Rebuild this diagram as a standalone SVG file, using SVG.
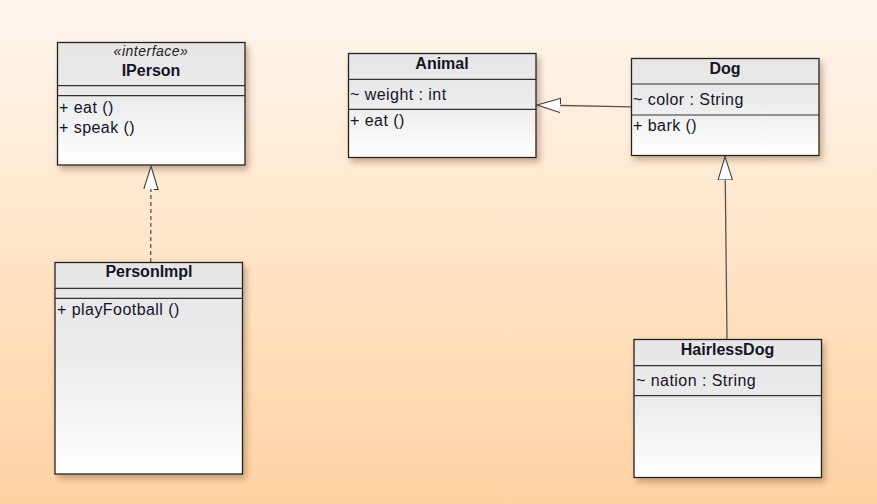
<svg xmlns="http://www.w3.org/2000/svg" width="877" height="504" viewBox="0 0 877 504">
<defs>
<linearGradient id="bg" x1="0" y1="0" x2="0" y2="1">
<stop offset="0" stop-color="#fff6ee"/>
<stop offset="1" stop-color="#ffd2a2"/>
</linearGradient>
<linearGradient id="box" x1="0" y1="0" x2="0" y2="1">
<stop offset="0" stop-color="#e6e6e6"/>
<stop offset="0.45" stop-color="#ebebeb"/>
<stop offset="1" stop-color="#ffffff"/>
</linearGradient>
<filter id="sh" x="-10%" y="-10%" width="130%" height="130%">
<feDropShadow dx="3" dy="4" stdDeviation="3" flood-color="#7a5a3a" flood-opacity="0.45"/>
</filter>
<marker id="tri" viewBox="0 0 24 16" refX="24" refY="8" markerWidth="24" markerHeight="16" markerUnits="userSpaceOnUse" orient="auto">
<path d="M0,0.8 L23.5,8 L0,15.2 Z" fill="#fff" stroke="#333" stroke-width="1"/>
</marker>
</defs>
<style>
.b{fill:url(#box);stroke:#222;stroke-width:1.3;filter:url(#sh)}
.d{stroke:#333;stroke-width:1.2}
.t{font-family:"Liberation Sans",Arial,sans-serif;font-size:16px;letter-spacing:0.45px;fill:#141428}
.h{font-family:"Liberation Sans",Arial,sans-serif;font-size:16px;font-weight:bold;fill:#141428;text-anchor:middle}
.s{font-family:"Liberation Sans",Arial,sans-serif;font-size:14px;letter-spacing:0.5px;font-style:italic;fill:#222;text-anchor:middle}
.c{fill:none;stroke:#555;stroke-width:1.3}
</style>
<rect width="877" height="504" fill="url(#bg)"/>

<g id="connectors">
<line class="c" x1="150.7" y1="262" x2="151" y2="165.5" stroke-dasharray="4,3" marker-end="url(#tri)"/>
<line class="c" x1="631.7" y1="106.8" x2="536.5" y2="105" marker-end="url(#tri)"/>
<line class="c" x1="727" y1="339" x2="725" y2="156" marker-end="url(#tri)"/>
</g>

<g id="IPerson">
<rect class="b" x="57.5" y="42.5" width="187.5" height="122.5"/>
<line class="d" x1="57.5" y1="85.7" x2="245" y2="85.7"/>
<line class="d" x1="57.5" y1="95.7" x2="245" y2="95.7"/>
<text class="s" x="151" y="55.5">«interface»</text>
<text class="h" x="151" y="76">IPerson</text>
<text class="t" x="59" y="113">+ eat ()</text>
<text class="t" x="59" y="133">+ speak ()</text>
</g>

<g id="Animal">
<rect class="b" x="348.5" y="53.5" width="187.5" height="104"/>
<line class="d" x1="348.5" y1="79.3" x2="536" y2="79.3"/>
<line class="d" x1="348.5" y1="109.3" x2="536" y2="109.3"/>
<text class="h" x="442" y="68.5">Animal</text>
<text class="t" x="350" y="100">~ weight : int</text>
<text class="t" x="350" y="126">+ eat ()</text>
</g>

<g id="Dog">
<rect class="b" x="631.5" y="58.5" width="187.5" height="97"/>
<line class="d" x1="631.5" y1="84" x2="819" y2="84"/>
<line class="d" x1="631.5" y1="115" x2="819" y2="115"/>
<text class="h" x="725" y="74">Dog</text>
<text class="t" x="633" y="105">~ color : String</text>
<text class="t" x="633" y="131">+ bark ()</text>
</g>

<g id="PersonImpl">
<rect class="b" x="55" y="262.5" width="187.5" height="211.5"/>
<line class="d" x1="55" y1="288.3" x2="242.5" y2="288.3"/>
<line class="d" x1="55" y1="298.3" x2="242.5" y2="298.3"/>
<text class="h" x="149" y="277">PersonImpl</text>
<text class="t" x="57" y="315">+ playFootball ()</text>
</g>

<g id="HairlessDog">
<rect class="b" x="634" y="339.5" width="187.5" height="138"/>
<line class="d" x1="634" y1="365.7" x2="821.5" y2="365.7"/>
<line class="d" x1="634" y1="395.7" x2="821.5" y2="395.7"/>
<text class="h" x="727.5" y="355">HairlessDog</text>
<text class="t" x="636" y="386">~ nation : String</text>
</g>
</svg>
